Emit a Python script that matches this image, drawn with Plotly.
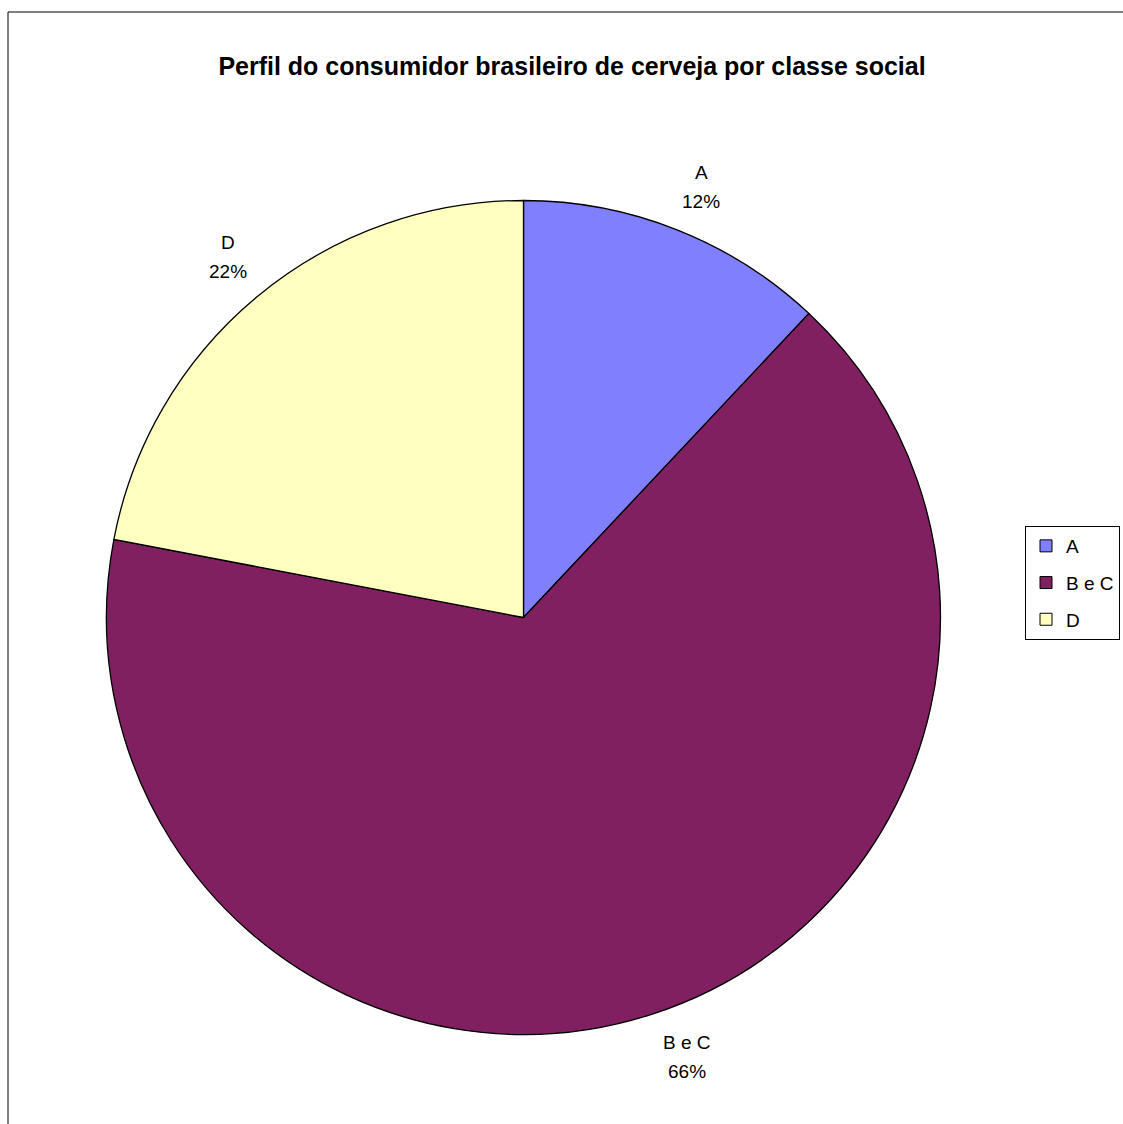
import math
import plotly.graph_objects as go

categories = ["A", "B e C", "D"]
values = [12, 66, 22]
colors = ["#8080FF", "#802060", "#FFFFC0"]
title_text = "Perfil do consumidor brasileiro de cerveja por classe social"

W, H = 1123, 1124
cx, cy, R = 523.5, 617.5, 417  # pixel layout of pie
FONT = "Liberation Sans, Arial"
FS = 19

fig = go.Figure()
fig.add_trace(go.Pie(
    labels=categories,
    values=values,
    sort=False,
    direction="clockwise",
    rotation=0,
    marker=dict(colors=colors, line=dict(color="black", width=1.3)),
    textinfo="none",
    hoverinfo="label+percent",
    showlegend=False,
    domain=dict(x=[(cx - R) / W, (cx + R) / W],
                y=[(H - cy - R) / H, (H - cy + R) / H]),
))

# legend entries (one per category so the item spacing can be set)
for i, (lab, col) in enumerate(zip(categories, colors)):
    fig.add_trace(go.Scatter(
        x=[None], y=[None], mode="markers", name=lab,
        legendgroup=f"g{i}",
        marker=dict(symbol="square", size=12, color=col,
                    line=dict(color="black", width=1)),
        hoverinfo="skip",
    ))

# data labels placed outside from slice mid-angles (two lines each)
total = sum(values)
annotations = []
cum = 0
for lab, v in zip(categories, values):
    mid = (cum + v / 2) / total * 2 * math.pi
    cum += v
    dx, dy = math.sin(mid), -math.cos(mid)
    pct = round(v / total * 100)
    lines = [lab, f"{pct}%"]
    half_w = 0.6 * FS * max(len(s) for s in lines) / 2
    half_h = 24
    px = cx + (R + 20) * dx + math.copysign(half_w, dx)
    py = cy + (R + 20) * dy + math.copysign(half_h, dy)
    for txt, off in zip(lines, (-14.5, 14.5)):
        annotations.append(dict(
            x=px / W, y=1 - (py + off) / H, xref="paper", yref="paper",
            text=txt, showarrow=False,
            xanchor="center", yanchor="middle",
            font=dict(family=FONT, size=FS, color="black"),
        ))

fig.update_layout(
    width=W, height=H,
    margin=dict(l=0, r=0, t=0, b=0, autoexpand=False),
    paper_bgcolor="white",
    plot_bgcolor="white",
    xaxis=dict(visible=False),
    yaxis=dict(visible=False),
    title=dict(text=f"<b>{title_text}</b>", x=572 / W, xanchor="center",
               y=1 - 66 / H, yanchor="middle",
               font=dict(family=FONT, size=25, color="black")),
    annotations=annotations,
    legend=dict(x=1120 / W, xanchor="right", y=1 - 583 / H, yanchor="middle",
                bordercolor="black", borderwidth=1, bgcolor="white",
                font=dict(family=FONT, size=FS, color="black"),
                itemwidth=30, tracegroupgap=9),
    shapes=[dict(type="rect", xref="paper", yref="paper",
                 x0=8 / W, x1=1.2, y0=-0.2, y1=1 - 12 / H,
                 line=dict(color="black", width=1), fillcolor="rgba(0,0,0,0)")],
)

fig.write_html(
    "out.html",
    config={"displayModeBar": False},
    post_script=("document.body.style.margin='0';"
                 "document.body.style.overflow='hidden';"
                 "document.documentElement.style.overflow='hidden';"),
)
